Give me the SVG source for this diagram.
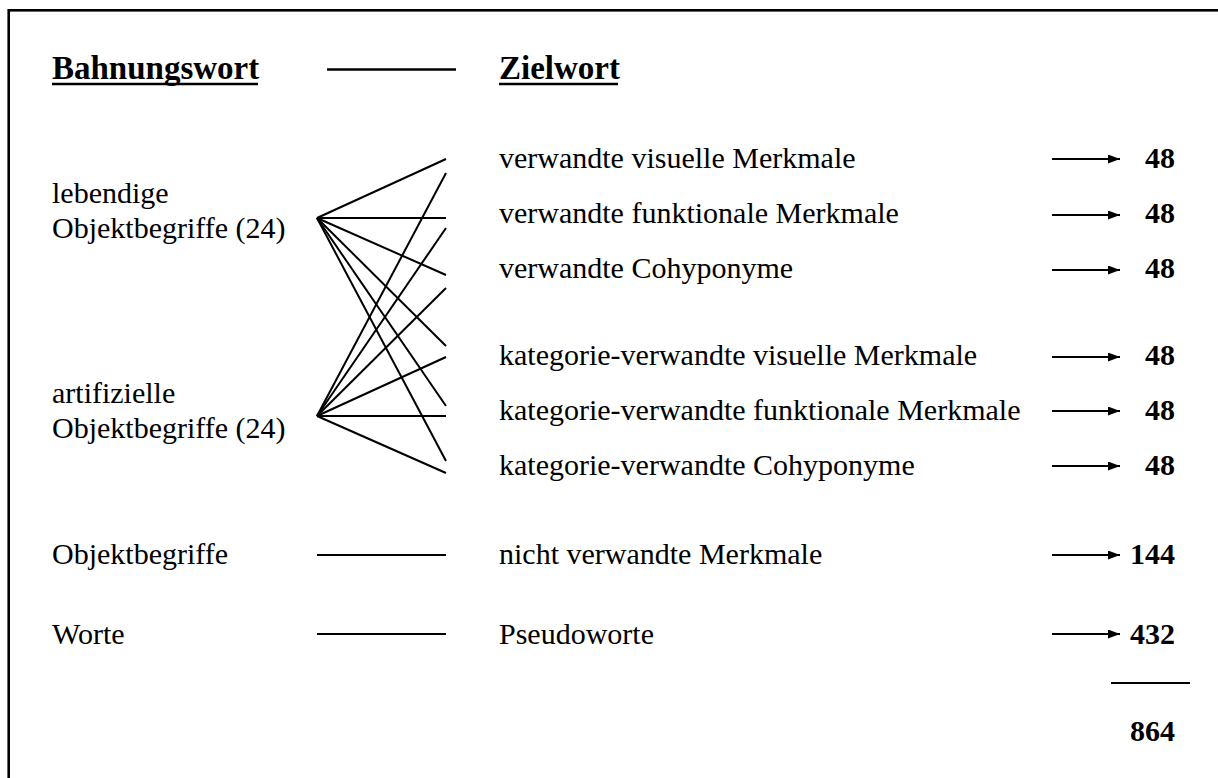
<svg xmlns="http://www.w3.org/2000/svg" width="1218" height="778" viewBox="0 0 1218 778">
<defs>
<style>
.t{font-family:"Liberation Serif","Times New Roman",serif;font-size:30px;fill:#000}
.h{font-family:"Liberation Serif","Times New Roman",serif;font-size:33px;font-weight:bold;fill:#000}
.n{font-family:"Liberation Serif","Times New Roman",serif;font-size:30px;font-weight:bold;fill:#000;text-anchor:end}
.ln{stroke:#000;stroke-width:2;fill:none}
.ul{stroke:#000;stroke-width:2.7}
.ar{stroke:#000;stroke-width:2.2;fill:none;marker-end:url(#ah)}
</style>
<marker id="ah" viewBox="0 0 12 9" refX="12" refY="4.5" markerUnits="userSpaceOnUse" markerWidth="12" markerHeight="9" orient="auto">
<path d="M0,0 L12,4.5 L0,9 Z" fill="#000"/>
</marker>
</defs>
<rect width="1218" height="778" fill="#fff"/>
<rect id="frame" x="8.7" y="10.3" width="1400" height="900" fill="none" stroke="#000" stroke-width="2.6"/>

<g id="header">
<text class="h" x="52" y="79">Bahnungswort</text>
<line class="ul" x1="52" y1="84" x2="258" y2="84"/>
<line class="ul" x1="327" y1="69.5" x2="456" y2="69.5"/>
<text class="h" x="499" y="79">Zielwort</text>
<line class="ul" x1="499" y1="84" x2="618" y2="84"/>
</g>

<g id="src-lebendig">
<text class="t" x="52" y="203">lebendige</text>
<text class="t" x="52" y="238">Objektbegriffe (24)</text>
</g>
<g id="src-artifiziell">
<text class="t" x="52" y="403">artifizielle</text>
<text class="t" x="52" y="438">Objektbegriffe (24)</text>
</g>
<g id="src-objekt"><text class="t" x="52" y="564">Objektbegriffe</text></g>
<g id="src-worte"><text class="t" x="52" y="644">Worte</text></g>

<g id="tgt-vv"><text class="t" x="499" y="168">verwandte visuelle Merkmale</text><text class="n" x="1175" y="168">48</text></g>
<g id="tgt-vf"><text class="t" x="499" y="223">verwandte funktionale Merkmale</text><text class="n" x="1175" y="223">48</text></g>
<g id="tgt-vc"><text class="t" x="499" y="278">verwandte Cohyponyme</text><text class="n" x="1175" y="278">48</text></g>
<g id="tgt-kv"><text class="t" x="499" y="365">kategorie-verwandte visuelle Merkmale</text><text class="n" x="1175" y="365">48</text></g>
<g id="tgt-kf"><text class="t" x="499" y="420">kategorie-verwandte funktionale Merkmale</text><text class="n" x="1175" y="420">48</text></g>
<g id="tgt-kc"><text class="t" x="499" y="475">kategorie-verwandte Cohyponyme</text><text class="n" x="1175" y="475">48</text></g>
<g id="tgt-nv"><text class="t" x="499" y="564">nicht verwandte Merkmale</text><text class="n" x="1175" y="564">144</text></g>
<g id="tgt-pw"><text class="t" x="499" y="644">Pseudoworte</text><text class="n" x="1175" y="644">432</text></g>
<g id="total"><line class="ln" x1="1111" y1="683" x2="1190" y2="683"/><text class="n" x="1175" y="741">864</text></g>

<g id="connectors">
<line class="ln" x1="317" y1="218" x2="446" y2="159"/>
<line class="ln" x1="317" y1="218" x2="446" y2="218"/>
<line class="ln" x1="317" y1="218" x2="446" y2="275"/>
<line class="ln" x1="317" y1="218" x2="446" y2="346"/>
<line class="ln" x1="317" y1="218" x2="446" y2="406"/>
<line class="ln" x1="317" y1="218" x2="446" y2="461"/>
<line class="ln" x1="317" y1="416" x2="446" y2="173"/>
<line class="ln" x1="317" y1="416" x2="446" y2="228"/>
<line class="ln" x1="317" y1="416" x2="446" y2="288"/>
<line class="ln" x1="317" y1="416" x2="446" y2="357"/>
<line class="ln" x1="317" y1="416" x2="446" y2="416"/>
<line class="ln" x1="317" y1="416" x2="446" y2="473"/>
<line class="ln" x1="317" y1="555" x2="446" y2="555"/>
<line class="ln" x1="317" y1="634" x2="446" y2="634"/>
<line class="ar" x1="1052" y1="159" x2="1120" y2="159"/>
<line class="ar" x1="1052" y1="215" x2="1120" y2="215"/>
<line class="ar" x1="1052" y1="270" x2="1120" y2="270"/>
<line class="ar" x1="1052" y1="357" x2="1120" y2="357"/>
<line class="ar" x1="1052" y1="411" x2="1120" y2="411"/>
<line class="ar" x1="1052" y1="466" x2="1120" y2="466"/>
<line class="ar" x1="1052" y1="555" x2="1120" y2="555"/>
<line class="ar" x1="1052" y1="634" x2="1120" y2="634"/>
</g>
</svg>
